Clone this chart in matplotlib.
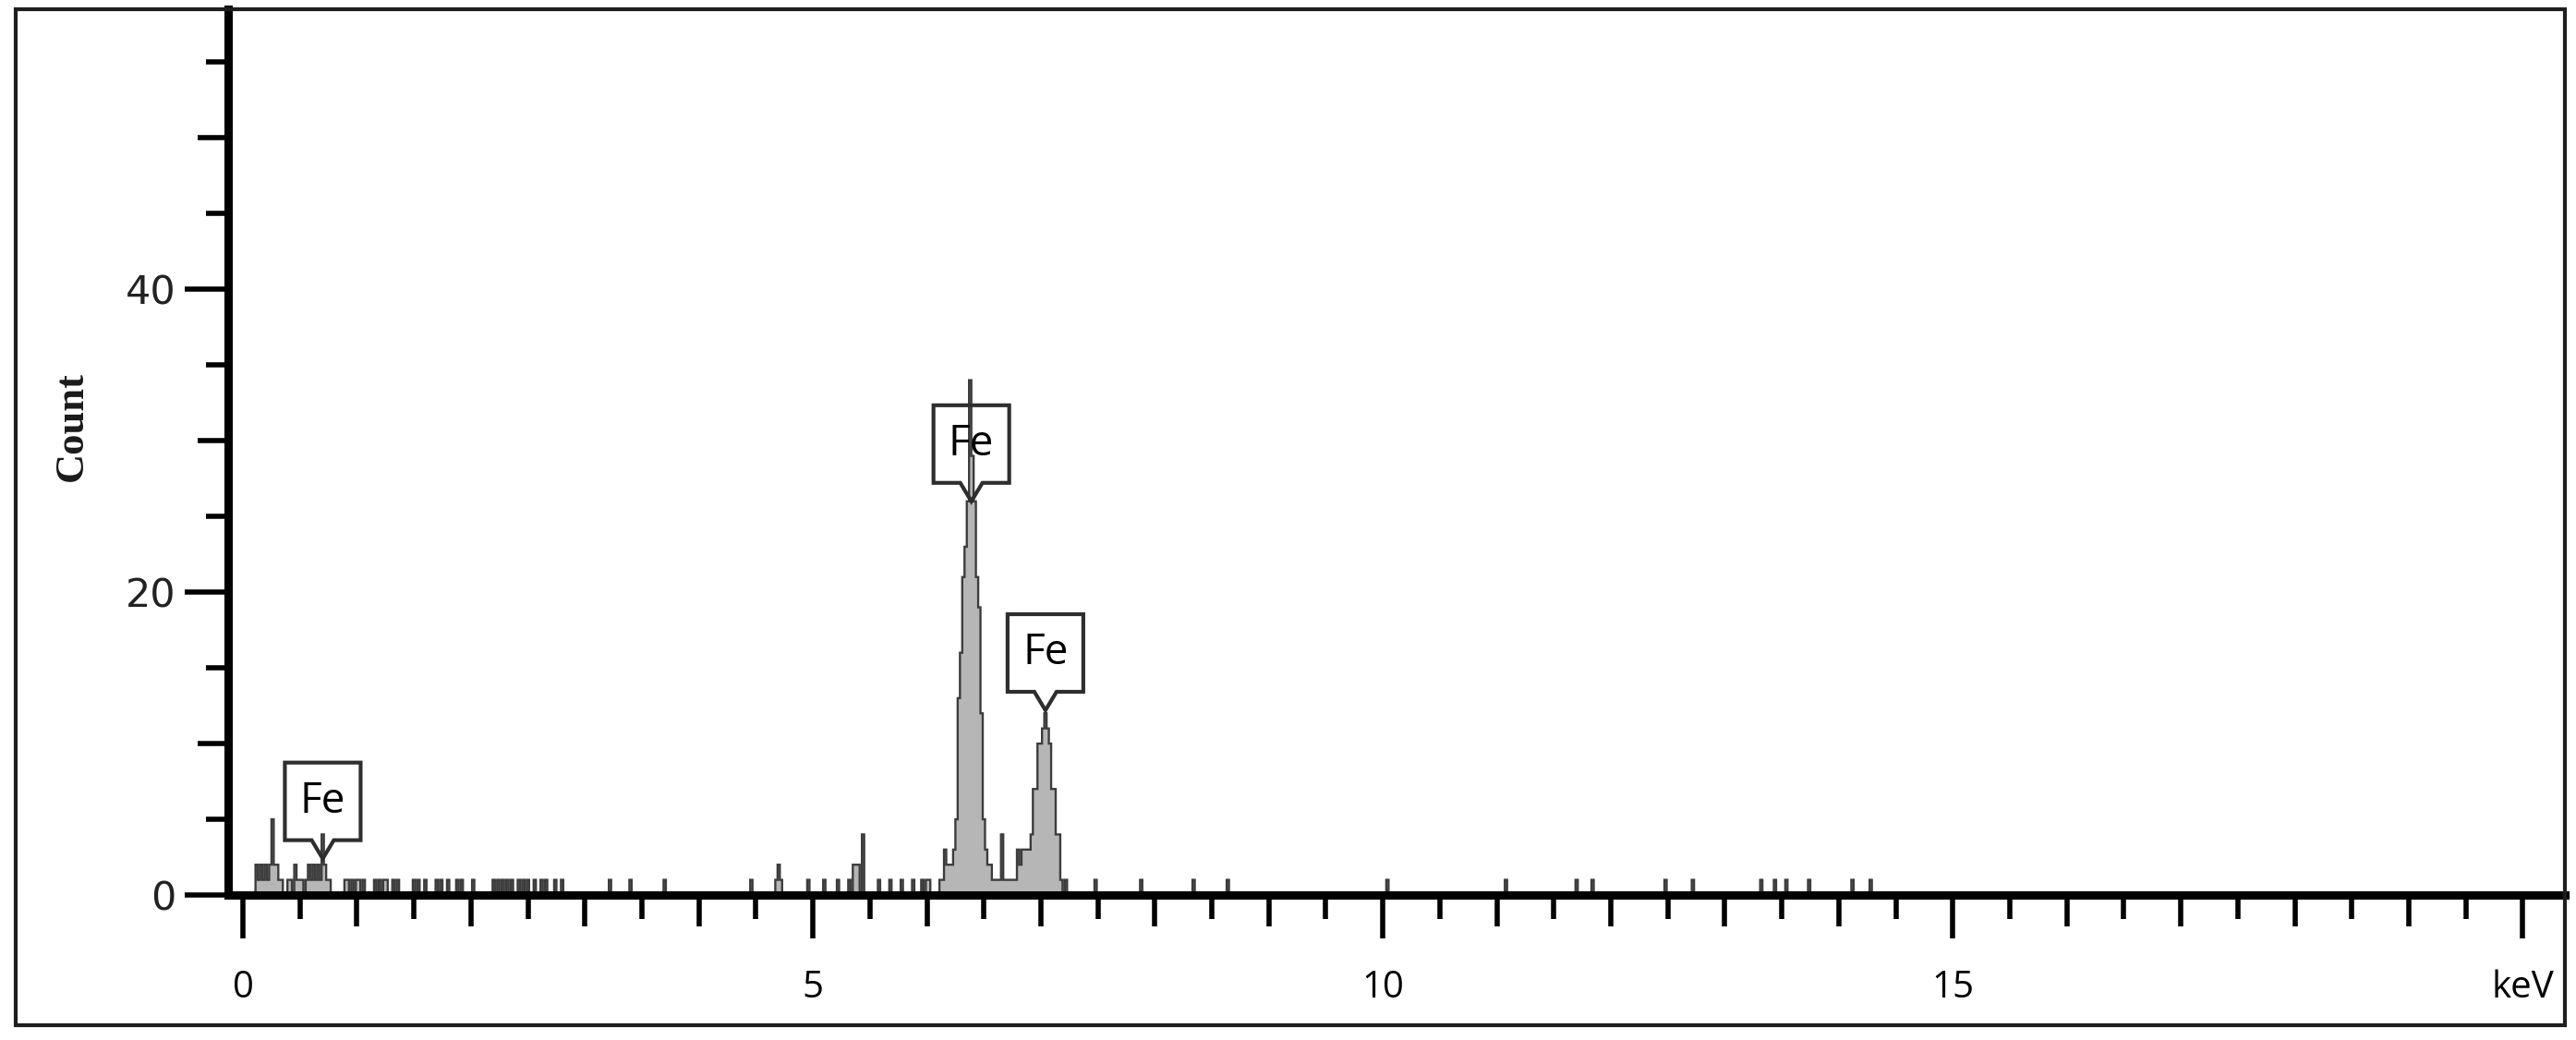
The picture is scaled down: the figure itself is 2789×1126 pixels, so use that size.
import numpy as np
import matplotlib
matplotlib.use('Agg')
import matplotlib.pyplot as plt
import matplotlib.patches as patches
import matplotlib.transforms as transforms
from matplotlib.ticker import MultipleLocator, FuncFormatter

# EDS spectrum, non-empty channels only (channel width 0.02 keV)
l_kev = [0.12, 0.14, 0.16, 0.18, 0.20, 0.22, 0.24, 0.26, 0.28, 0.30,
         0.32, 0.34, 0.40, 0.42, 0.46, 0.48, 0.50, 0.52, 0.56, 0.58,
         0.60, 0.62, 0.64, 0.66, 0.68, 0.70, 0.72, 0.74, 0.76]
l_counts = [2, 1, 2, 1, 2, 1, 2, 5, 2, 2,
            1, 1, 1, 1, 2, 1, 1, 1, 1, 2,
            1, 2, 1, 2, 1, 4, 2, 1, 1]

bg_kev = [0.90, 0.92, 0.96, 1.00, 1.02, 1.06, 1.16, 1.20, 1.24, 1.26,
          1.32, 1.36, 1.50, 1.54, 1.60, 1.70, 1.74, 1.80, 1.88, 1.92,
          2.02, 2.20, 2.24, 2.28, 2.32, 2.36, 2.42, 2.46, 2.50, 2.56,
          2.62, 2.66, 2.74, 2.80, 3.22, 3.40, 3.70, 4.46, 4.68, 4.70,
          4.72, 4.96, 5.10, 5.22, 5.32, 5.36, 5.38, 5.40, 5.44, 5.58,
          5.68, 5.78, 5.88, 5.96, 6.00, 6.02, 6.12, 6.14, 6.16, 6.18,
          6.20]
bg_counts = [1, 1, 1, 1, 1, 1, 1, 1, 1, 1,
             1, 1, 1, 1, 1, 1, 1, 1, 1, 1,
             1, 1, 1, 1, 1, 1, 1, 1, 1, 1,
             1, 1, 1, 1, 1, 1, 1, 1, 1, 2,
             1, 1, 1, 1, 1, 2, 2, 2, 4, 1,
             1, 1, 1, 1, 1, 1, 1, 1, 3, 2,
             2]

# Fe K-alpha, K-beta and the channels between them
k_kev = [6.22, 6.24, 6.26, 6.28, 6.30, 6.32, 6.34, 6.36, 6.38, 6.40,
         6.42, 6.44, 6.46, 6.48, 6.50, 6.52, 6.54, 6.56, 6.58, 6.60,
         6.62, 6.64, 6.66, 6.68, 6.70, 6.72, 6.74, 6.76, 6.78, 6.80,
         6.82, 6.84, 6.86, 6.88, 6.90, 6.92, 6.94, 6.96, 6.98, 7.00,
         7.02, 7.04, 7.06, 7.08, 7.10, 7.12, 7.14, 7.16, 7.18]
k_counts = [2, 3, 5, 13, 16, 21, 23, 26, 34, 29,
            26, 21, 19, 12, 5, 3, 2, 2, 1, 1,
            1, 1, 4, 1, 1, 1, 1, 1, 1, 3,
            2, 3, 3, 3, 3, 4, 7, 7, 10, 10,
            11, 12, 11, 10, 7, 7, 4, 4, 1]

tail_kev = [7.22, 7.48, 7.88, 8.34, 8.64, 10.04, 11.08, 11.70, 11.84, 12.48,
            12.72, 13.32, 13.44, 13.54, 13.74, 14.12, 14.28]
tail_counts = [1, 1, 1, 1, 1, 1, 1, 1, 1, 1,
               1, 1, 1, 1, 1, 1, 1]

# peak labels: where the callout tip sits
label_kev = [0.70, 6.39, 7.04]
label_counts = [2.4, 26.0, 12.2]
label_text = ['Fe', 'Fe', 'Fe']

x_ticks = [0, 5, 10, 15, 20]
x_ticklabels = ['0', '5', '10', '15', 'keV']
y_ticks = [0, 20, 40]

width = 0.02
kev = l_kev + bg_kev + k_kev + tail_kev
counts = l_counts + bg_counts + k_counts + tail_counts
n = int(round(14.6 / width))
spec = np.zeros(n)
for e, c in zip(kev, counts):
    spec[int(round(e / width))] = c
edges = np.arange(n + 1) * width - width / 2

fig = plt.figure(figsize=(27.89, 11.26), dpi=100)
ax = fig.add_axes([247 / 2789, 157 / 1126, (2777 - 247) / 2789, (1116 - 157) / 1126])

ax.stairs(spec, edges, fill=True, color='#b6b6b6', zorder=2)
ax.stairs(spec, edges, color='#3c3c3c', lw=1.7, zorder=2.2)

ax.set_xlim(-0.13, 20.37)
ax.set_ylim(0, 58.5)

for s in ['top', 'right']:
    ax.spines[s].set_visible(False)
for s in ['left', 'bottom']:
    ax.spines[s].set_linewidth(6.5)
    ax.spines[s].set_color('black')
    ax.spines[s].set_zorder(3)

px = 0.72  # points per pixel at 100 dpi
ax.xaxis.set_major_locator(MultipleLocator(5))
ax.xaxis.set_minor_locator(MultipleLocator(0.5))
ax.xaxis.set_major_formatter(FuncFormatter(
    lambda v, p: x_ticklabels[x_ticks.index(int(round(v)))] if int(round(v)) in x_ticks else ''))
ax.yaxis.set_major_locator(MultipleLocator(20))
ax.yaxis.set_minor_locator(MultipleLocator(5))

ax.tick_params(axis='both', which='both', direction='out', width=4, color='black')
ax.tick_params(axis='x', which='major', length=47 * px, pad=24)
ax.tick_params(axis='x', which='minor', length=26 * px)
ax.tick_params(axis='y', which='major', length=47 * px, pad=7)
ax.tick_params(axis='y', which='minor', length=24 * px)

for lab in ax.get_xticklabels():
    lab.set_fontfamily('Open Sans')
    lab.set_fontsize(29)
for lab in ax.get_yticklabels():
    lab.set_fontfamily('DejaVu Sans')
    lab.set_fontsize(31)
    lab.set_color('#222222')

# medium ticks: whole keV on x, multiples of 10 on y
locs = ax.xaxis.get_minorticklocs()
for t, loc in zip(ax.xaxis.get_minor_ticks(len(locs)), locs):
    if abs(loc - round(loc)) < 1e-6:
        t.tick1line.set_markersize(34 * px)
locs = ax.yaxis.get_minorticklocs()
for t, loc in zip(ax.yaxis.get_minor_ticks(len(locs)), locs):
    if abs(loc / 10 - round(loc / 10)) < 1e-6:
        t.tick1line.set_markersize(33 * px)

# callout boxes, sizes in inches from the tip
verts = [(0, 0), (-0.12, 0.2), (-0.41, 0.2), (-0.41, 1.04),
         (0.41, 1.04), (0.41, 0.2), (0.12, 0.2)]
for e, c, txt in zip(label_kev, label_counts, label_text):
    trans = fig.dpi_scale_trans + transforms.ScaledTranslation(e, c, ax.transData)
    ax.add_patch(patches.Polygon(verts, closed=True, fill=False, edgecolor='#2e2e2e',
                                 lw=3, transform=trans, zorder=5, clip_on=False))
    ax.text(0, 0.62, txt, transform=trans, ha='center', va='center',
            fontsize=33, family='Open Sans', color='black', zorder=6)

fig.text(78 / 2789, 1 - 462 / 1126, 'Count', rotation=90, ha='center', va='center',
         fontsize=32, family='Liberation Serif', weight='bold', color='#1a1a1a')

# outer frame
fig.patches.append(patches.Rectangle((17 / 2789, 16 / 1126), 2760 / 2789, 1100 / 1126,
                                     fill=False, edgecolor='#1e1e1e', lw=3,
                                     transform=fig.transFigure, figure=fig))

fig.savefig('out.png', dpi=100, facecolor='white')
